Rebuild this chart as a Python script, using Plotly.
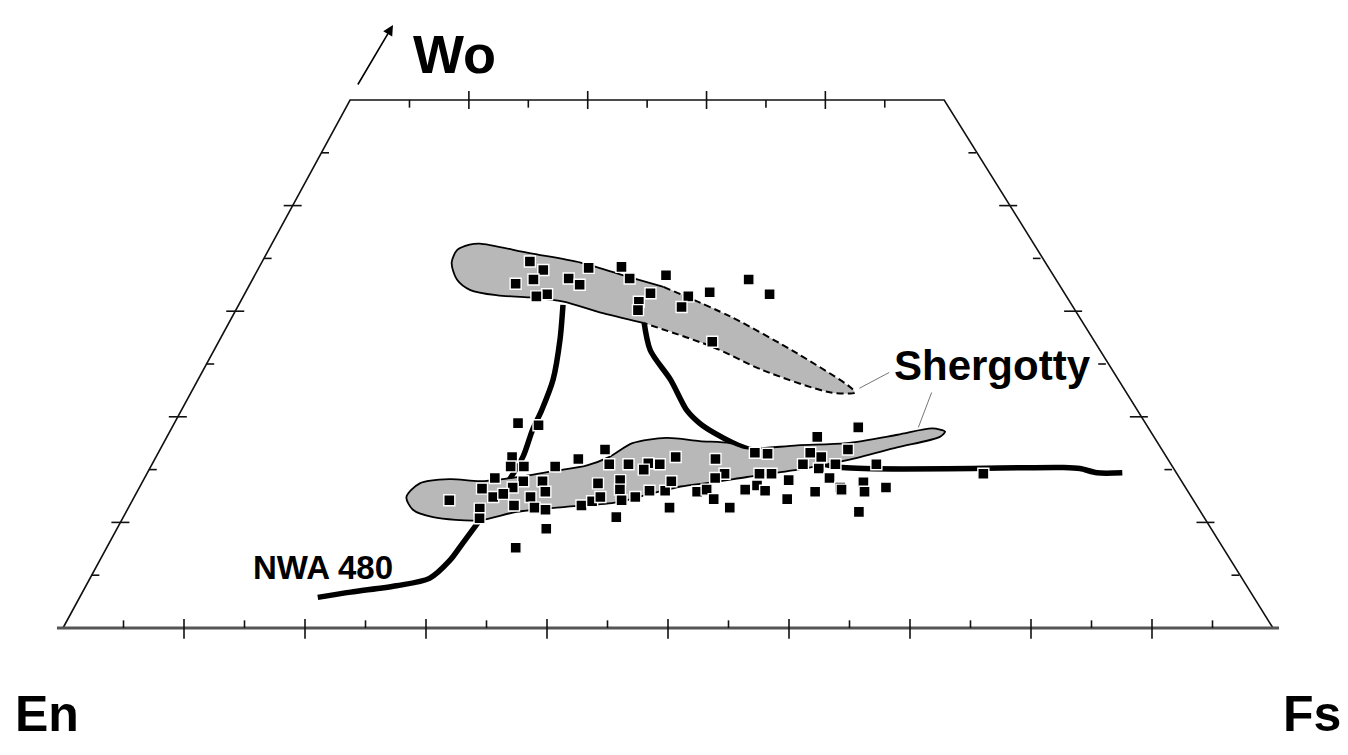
import plotly.graph_objects as go

# ---------------- data (Fs %, Wo %) ----------------
# Upper Shergotty field outline
upper_field_fs = [16.6, 17.4, 22.0, 26.7, 31.5, 34.7, 41.6, 48.8, 54.7, 55.3, 53.3, 46.7, 41.5, 34.6,
                  30.5, 27.0, 24.0, 21.2, 18.7, 17.1, 15.9, 15.8]
upper_field_wo = [36.3, 36.4, 35.5, 34.6, 33.2, 32.3, 29.5, 26.0, 22.8, 22.3, 22.3, 24.4, 26.6, 28.9,
                  29.9, 30.9, 31.3, 31.5, 32.0, 33.0, 34.6, 35.8]
upper_dash_start, upper_dash_end = 5, 13   # indices of dashed part of outline

# Lower Shergotty field outline
lower_field_fs = [22.6, 23.1, 25.4, 28.0, 30.4, 33.4, 36.2, 37.7, 39.0, 41.6, 44.5, 47.1, 48.7, 52.8,
                  56.8, 60.7, 63.3, 64.5, 64.3, 61.2, 57.6, 53.9, 50.0, 47.4, 44.9, 42.7, 40.3, 36.4,
                  32.4, 29.7, 25.7, 23.7]
lower_field_wo = [12.4, 13.7, 14.1, 13.9, 14.2, 14.8, 15.4, 16.2, 17.5, 18.0, 17.7, 17.5, 17.0, 17.3,
                  17.5, 18.3, 18.9, 18.6, 18.1, 17.1, 15.9, 15.0, 14.3, 13.8, 13.4, 12.7, 11.9, 11.5,
                  11.0, 10.2, 10.5, 11.2]

# NWA 480 zoning trends
nwa_left_fs = [19.7, 22.2, 25.7, 28.1, 29.0, 29.3, 29.7, 30.3, 30.5, 30.1, 30.0, 29.6, 28.4, 27.1]
nwa_left_wo = [2.9, 3.4, 4.0, 4.7, 6.4, 8.0, 10.2, 13.4, 16.2, 18.8, 20.6, 23.5, 27.3, 30.6]
nwa_right_fs = [34.5, 36.4, 39.4, 42.1, 43.7, 45.3, 48.7, 53.3, 57.5, 75.8, 77.3, 78.9, 81.0]
nwa_right_wo = [29.2, 26.3, 23.5, 20.6, 19.4, 18.5, 17.0, 16.1, 15.2, 15.2, 15.1, 14.7, 14.7]

# NWA 480 pyroxene analyses (upper / augite group)
aug_fs = [22.4, 23.9, 23.5, 22.2, 25.3, 24.5, 26.4, 27.6, 27.6, 30.3, 31.5, 34.4, 33.9, 33.3, 33.6,
          37.2, 38.8, 37.1, 41.5, 43.9, 41.2]
aug_wo = [34.7, 33.9, 33.0, 32.6, 31.6, 31.4, 33.1, 32.5, 34.1, 34.2, 33.1, 33.4, 31.7, 30.9, 30.1,
          31.4, 31.8, 30.4, 33.0, 31.6, 27.1]

# NWA 480 pyroxene analyses (lower / pigeonite group)
pig_fs = [28.6, 30.4, 29.6, 29.9, 31.0, 33.6, 35.2, 37.0, 38.0, 39.6, 41.2, 42.2, 41.1, 43.2, 29.1,
          31.6, 33.2, 28.5, 31.0, 33.9, 29.8, 30.5, 32.9, 26.3, 29.2, 31.9, 33.7, 34.7, 29.6, 37.5,
          38.2, 37.9, 38.7, 39.6, 40.0, 41.6, 42.5, 43.8, 43.9, 44.9, 40.9, 35.6, 33.9, 40.6,
          57.1, 54.1, 49.6, 50.7, 54.2, 55.3, 57.2, 46.6, 54.1, 55.6, 56.8, 60.2, 48.0, 50.9, 51.9,
          47.4, 56.9, 53.6, 51.2, 59.9, 62.0, 58.2, 46.5, 47.2, 50.4, 52.1, 56.3, 48.2, 54.3, 49.9,
          60.8, 58.4, 60.4, 69.5]
pig_wo = [19.4, 19.2, 16.2, 15.3, 15.3, 15.3, 16.0, 16.9, 15.5, 15.5, 15.6, 15.5, 15.0, 16.2, 14.2,
          13.9, 13.9, 13.2, 13.3, 12.9, 12.4, 12.7, 12.4, 12.1, 11.3, 11.6, 11.4, 11.2, 10.4, 11.6,
          12.0, 13.7, 12.4, 14.0, 13.1, 12.4, 13.0, 13.0, 13.9, 11.4, 10.5, 9.4, 7.6, 12.1,
          19.0, 18.1, 16.6, 16.5, 16.6, 16.2, 16.9, 16.0, 15.5, 15.1, 15.5, 15.5, 14.6, 14.6, 14.6,
          14.2, 14.2, 14.0, 13.5, 13.8, 13.3, 13.3, 12.9, 13.1, 13.1, 13.0, 12.9, 12.2, 12.2, 11.4,
          11.0, 13.1, 12.9, 14.6]

# Leader lines from "Shergotty" label to the two fields
leader_fs = [[55.5, 57.3], [62.1, 61.7]]
leader_wo = [[22.7, 24.2], [19.0, 22.3]]

# Tick positions (%)
base_major = [10, 20, 30, 40, 50, 60, 70, 80, 90]
base_minor = [5, 15, 25, 35, 45, 55, 65, 75, 85, 95]
top_major = [10, 20, 30, 40]
top_minor = [5, 15, 25, 35, 45]
side_major = [10, 20, 30, 40]
side_minor = [5, 15, 25, 35, 45]

FONT = "Liberation Sans, Arial, Helvetica, sans-serif"
PX_X = 12.1    # pixels per projected unit
PX_Y = 10.56   # pixels per Wo unit


def proj(fs, wo):
    """Quadrilateral projection (slightly sheared like the original figure)."""
    return fs * (1 - 0.00036 * wo) + 0.4745 * wo


def pxs(fs_list, wo_list):
    return [proj(f, w) for f, w in zip(fs_list, wo_list)], list(wo_list)


fig = go.Figure()

# ---------------- frame ----------------
fx, fy = pxs([0, 0, 50, 100], [0, 50, 50, 0])
fig.add_trace(go.Scatter(x=fx, y=fy, mode="lines", line=dict(color="#111", width=1.6),
                         hoverinfo="skip", showlegend=False))
bx, by = pxs([-0.5, 100.5], [0, 0])
fig.add_trace(go.Scatter(x=bx, y=by, mode="lines", line=dict(color="#555", width=3),
                         hoverinfo="skip", showlegend=False))

# ---------------- ticks ----------------
hx, hy = 9 / PX_X, 9 / PX_Y
tx, ty = [], []
for t in base_major:
    x = proj(t, 0)
    tx += [x, x, None]; ty += [-1.2 * hy, hy, None]
for t in base_minor:
    x = proj(t, 0)
    tx += [x, x, None]; ty += [0, 0.85 * hy, None]
for t in top_major:
    x = proj(t, 50)
    tx += [x, x, None]; ty += [50 - hy, 50 + hy, None]
for t in top_minor:
    x = proj(t, 50)
    tx += [x, x, None]; ty += [50 - 0.85 * hy, 50, None]
for w in side_major:
    xl = proj(0, w); xr = proj(100 - w, w)
    tx += [xl - hx, xl + hx, None, xr - hx, xr + hx, None]
    ty += [w, w, None, w, w, None]
for w in side_minor:
    xl = proj(0, w); xr = proj(100 - w, w)
    tx += [xl, xl + 0.85 * hx, None, xr - 0.85 * hx, xr, None]
    ty += [w, w, None, w, w, None]
fig.add_trace(go.Scatter(x=tx, y=ty, mode="lines", line=dict(color="#111", width=1.6),
                         hoverinfo="skip", showlegend=False))

# ---------------- NWA 480 trend lines ----------------
for fsl, wol in [(nwa_left_fs, nwa_left_wo), (nwa_right_fs, nwa_right_wo)]:
    x, y = pxs(fsl, wol)
    fig.add_trace(go.Scatter(x=x, y=y, mode="lines",
                             line=dict(color="black", width=5.5, shape="spline", smoothing=0.8),
                             hoverinfo="skip", showlegend=False))

# ---------------- Shergotty fields ----------------
ux, uy = pxs(upper_field_fs + upper_field_fs[:1], upper_field_wo + upper_field_wo[:1])
fig.add_trace(go.Scatter(x=ux, y=uy, mode="lines", fill="toself", fillcolor="#b8b8b8",
                         line=dict(color="rgba(0,0,0,0)", width=0, shape="spline", smoothing=0.8),
                         hoverinfo="skip", showlegend=False))
sol_fs = upper_field_fs[upper_dash_end:] + upper_field_fs[:upper_dash_start + 1]
sol_wo = upper_field_wo[upper_dash_end:] + upper_field_wo[:upper_dash_start + 1]
x, y = pxs(sol_fs, sol_wo)
fig.add_trace(go.Scatter(x=x, y=y, mode="lines",
                         line=dict(color="black", width=1.8, shape="spline", smoothing=0.8),
                         hoverinfo="skip", showlegend=False))
x, y = pxs(upper_field_fs[upper_dash_start:upper_dash_end + 1],
           upper_field_wo[upper_dash_start:upper_dash_end + 1])
fig.add_trace(go.Scatter(x=x, y=y, mode="lines",
                         line=dict(color="black", width=2, dash="7px,4px", shape="spline", smoothing=0.8),
                         hoverinfo="skip", showlegend=False))

lx, ly = pxs(lower_field_fs + lower_field_fs[:1], lower_field_wo + lower_field_wo[:1])
fig.add_trace(go.Scatter(x=lx, y=ly, mode="lines", fill="toself", fillcolor="#b8b8b8",
                         line=dict(color="black", width=1.8, shape="spline", smoothing=0.8),
                         hoverinfo="skip", showlegend=False))

# ---------------- analyses ----------------
for fsl, wol in [(aug_fs, aug_wo), (pig_fs, pig_wo)]:
    x, y = pxs(fsl, wol)
    fig.add_trace(go.Scatter(x=x, y=y, mode="markers",
                             marker=dict(symbol="square", size=11, color="black",
                                         line=dict(color="white", width=1.4)),
                             showlegend=False))

# ---------------- leader lines ----------------
for fsl, wol in zip(leader_fs, leader_wo):
    x, y = pxs(fsl, wol)
    fig.add_trace(go.Scatter(x=x, y=y, mode="lines", line=dict(color="#777", width=1),
                             hoverinfo="skip", showlegend=False))


# ---------------- labels (positions given in pixels of the page) ----------------
def ax_x(px):
    return (px - 63) / PX_X


def ax_y(py):
    return (628 - py) / PX_Y


def label(text, px, py, size):
    fig.add_annotation(x=ax_x(px), y=ax_y(py), text=f"<b>{text}</b>", showarrow=False,
                       font=dict(family=FONT, size=size, color="black"))


fig.add_annotation(x=ax_x(393), y=ax_y(25), ax=ax_x(357), ay=ax_y(86),
                   axref="x", ayref="y", text="", showarrow=True,
                   arrowhead=2, arrowsize=1.3, arrowwidth=1.6, arrowcolor="black")
label("Wo", 454, 54, 54)
label("En", 47, 714, 50)
label("Fs", 1312, 714, 50)
label("Shergotty", 992, 365, 42)
label("NWA 480", 323, 567, 33)

fig.update_layout(
    width=1348, height=755,
    margin=dict(l=0, r=0, t=0, b=0),
    paper_bgcolor="white", plot_bgcolor="white",
    xaxis=dict(range=[ax_x(0), ax_x(1348)], visible=False, fixedrange=True),
    yaxis=dict(range=[ax_y(755), ax_y(0)], visible=False, fixedrange=True),
    showlegend=False,
)

fig.write_html("out.html")
